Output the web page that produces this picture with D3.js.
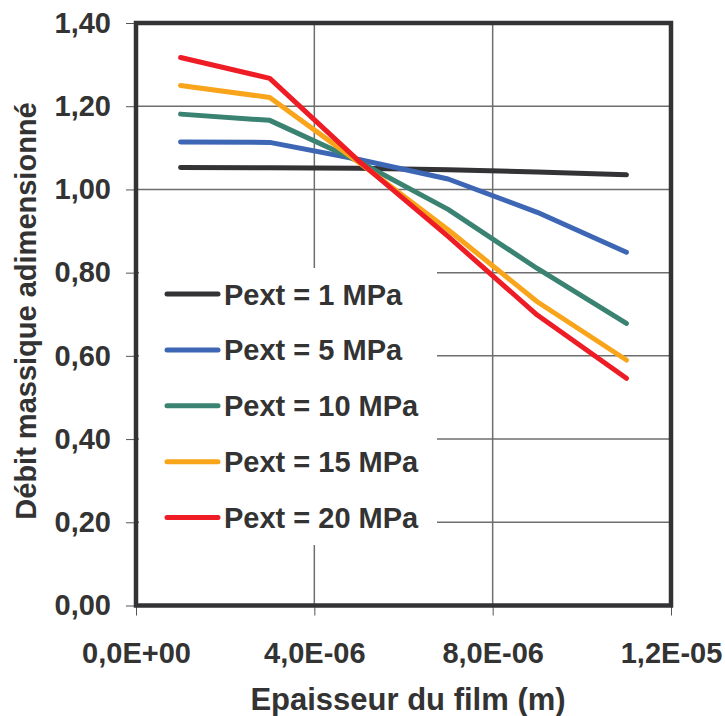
<!DOCTYPE html>
<html><head><meta charset="utf-8">
<script src="https://cdn.jsdelivr.net/npm/d3@7"></script>
<style>body{margin:0;background:#fff}svg{display:block}text{font-family:"Liberation Sans",Arial,sans-serif;font-weight:bold;fill:#333}</style>
</head><body>
<script>
const xValues = [1e-6, 3e-6, 5e-6, 7e-6, 9e-6, 11e-6];
const seriesNames = ["Pext = 1 MPa","Pext = 5 MPa","Pext = 10 MPa","Pext = 15 MPa","Pext = 20 MPa"];
const p1  = [1.053, 1.052, 1.051, 1.047, 1.042, 1.035];
const p5  = [1.114, 1.113, 1.072, 1.025, 0.945, 0.849];
const p10 = [1.181, 1.166, 1.067, 0.952, 0.810, 0.678];
const p15 = [1.250, 1.221, 1.065, 0.903, 0.730, 0.590];
const p20 = [1.317, 1.267, 1.068, 0.887, 0.698, 0.546];
const seriesColors = ["#333336","#3d66b5","#3a8272","#f9a51b","#ee1c25"];
const xTicks = [0, 4e-6, 8e-6, 1.2e-5];
const xTickLabels = ["0,0E+00","4,0E-06","8,0E-06","1,2E-05"];
const yTicks = [0,0.2,0.4,0.6,0.8,1.0,1.2,1.4];
const yTickLabels = ["0,00","0,20","0,40","0,60","0,80","1,00","1,20","1,40"];

const W=725,H=716;
const svg=d3.select("body").append("svg").attr("width",W).attr("height",H);
const x=d3.scaleLinear().domain([0,1.2e-5]).range([136,671]);
const y=d3.scaleLinear().domain([0,1.4]).range([605.5,23]);

// grid
svg.append("g").selectAll("line").data(yTicks.slice(1,-1)).join("line")
  .attr("x1",x(0)).attr("x2",x(1.2e-5)).attr("y1",d=>y(d)).attr("y2",d=>y(d))
  .attr("stroke","#6e6e6e").attr("stroke-width",1.5);
svg.append("g").selectAll("line").data(xTicks.slice(1,-1)).join("line")
  .attr("y1",y(0)).attr("y2",y(1.4)).attr("x1",d=>x(d)).attr("x2",d=>x(d))
  .attr("stroke","#6e6e6e").attr("stroke-width",1.5);

// axes
const yAxis=d3.axisLeft(y).tickValues(yTicks).tickFormat((d,i)=>yTickLabels[i]).tickSize(10).tickPadding(15);
const gy=svg.append("g").attr("transform",`translate(${x(0)},0)`).call(yAxis);
gy.select(".domain").remove();
gy.selectAll("line").attr("stroke","#555").attr("stroke-width",1);
gy.selectAll("text").attr("font-size",29).attr("fill","#333").attr("font-family",null);
const xAxis=d3.axisBottom(x).tickValues(xTicks).tickFormat((d,i)=>xTickLabels[i]).tickSize(10).tickPadding(27);
const gx=svg.append("g").attr("transform",`translate(0,${y(0)})`).call(xAxis);
gx.select(".domain").remove();
gx.selectAll("line").attr("stroke","#555").attr("stroke-width",1);
gx.selectAll("text").attr("font-size",29).attr("fill","#333").attr("font-family",null);

// lines
const all=[p1,p5,p10,p15,p20];
const line=d3.line().x((d,i)=>x(xValues[i])).y(d=>y(d));
svg.append("g").selectAll("path").data(all).join("path")
  .attr("d",line).attr("fill","none").attr("stroke",(d,i)=>seriesColors[i])
  .attr("stroke-width",5).attr("stroke-linejoin","round").attr("stroke-linecap","round");

// frame
svg.append("rect").attr("x",x(0)).attr("y",y(1.4)).attr("width",x(1.2e-5)-x(0)).attr("height",y(0)-y(1.4))
  .attr("fill","none").attr("stroke","#333336").attr("stroke-width",4.5);

// legend
const lg=svg.append("g");
lg.append("rect").attr("x",139).attr("y",268).attr("width",298).attr("height",277).attr("fill","#fff");
seriesNames.forEach((n,i)=>{
  const yy=294+i*55.9;
  lg.append("line").attr("x1",167).attr("x2",218).attr("y1",yy).attr("y2",yy)
    .attr("stroke",seriesColors[i]).attr("stroke-width",5).attr("stroke-linecap","round");
  lg.append("text").attr("x",224).attr("y",yy+10.5).attr("font-size",29).text(n);
});

// titles
svg.append("text").attr("x",408).attr("y",710).attr("text-anchor","middle").attr("font-size",31).text("Epaisseur du film (m)");
svg.append("text").attr("transform",`translate(36,311) rotate(-90)`).attr("text-anchor","middle").attr("font-size",29).text("Débit massique adimensionné");
</script>
</body></html>
